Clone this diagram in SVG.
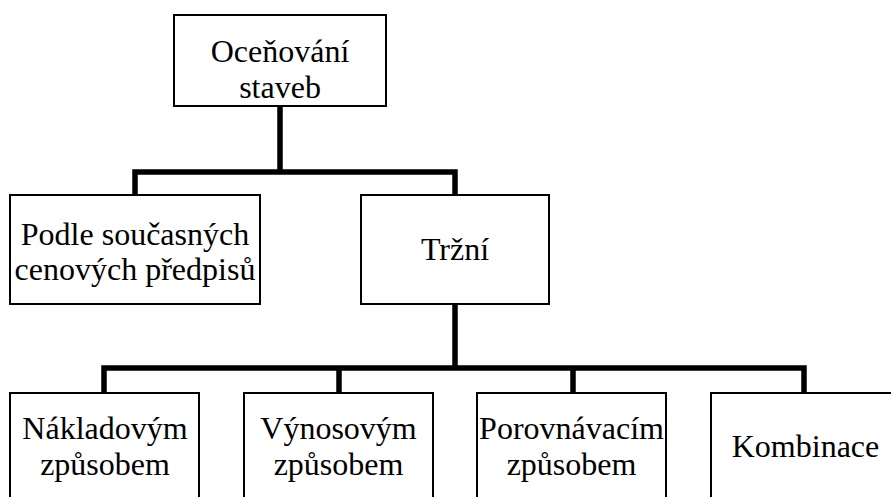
<svg xmlns="http://www.w3.org/2000/svg" width="891" height="497" viewBox="0 0 891 497">
<style>
.box{fill:#fff;stroke:#000;stroke-width:2}
.t{font-family:"Liberation Serif","Times New Roman",serif;font-size:32px;fill:#000;text-anchor:middle}
.c{fill:none;stroke:#000;stroke-width:5.5;stroke-linecap:square;stroke-linejoin:miter}
</style>
<rect width="891" height="497" fill="#fff"/>
<g id="connectors">
<path class="c" d="M280,107 V172 M135,195 V172 H455 V195 M455,304 V368 M104,393 V368 H804 V393 M339,368 V393 M573,368 V393"/>
</g>
<g id="n-root"><rect class="box" x="174" y="15" width="212" height="91"/><text class="t" x="280" y="62">Oceňování</text><text class="t" x="280" y="98">staveb</text></g>
<g id="n-podle"><rect class="box" x="10" y="195" width="250" height="109"/><text class="t" x="135" y="245">Podle současných</text><text class="t" x="135" y="280">cenových předpisů</text></g>
<g id="n-trzni"><rect class="box" x="361" y="195" width="188" height="109"/><text class="t" x="455" y="260">Tržní</text></g>
<g id="n-naklad"><rect class="box" x="10" y="393" width="189" height="130"/><text class="t" x="105" y="439">Nákladovým</text><text class="t" x="105" y="475">způsobem</text></g>
<g id="n-vynos"><rect class="box" x="244" y="393" width="189" height="130"/><text class="t" x="338.5" y="439">Výnosovým</text><text class="t" x="338.5" y="475">způsobem</text></g>
<g id="n-porov"><rect class="box" x="477" y="393" width="189" height="130"/><text class="t" x="571.5" y="439">Porovnávacím</text><text class="t" x="571.5" y="475">způsobem</text></g>
<g id="n-komb"><rect class="box" x="711" y="393" width="189" height="130"/><text class="t" x="805.5" y="457">Kombinace</text></g>
</svg>
